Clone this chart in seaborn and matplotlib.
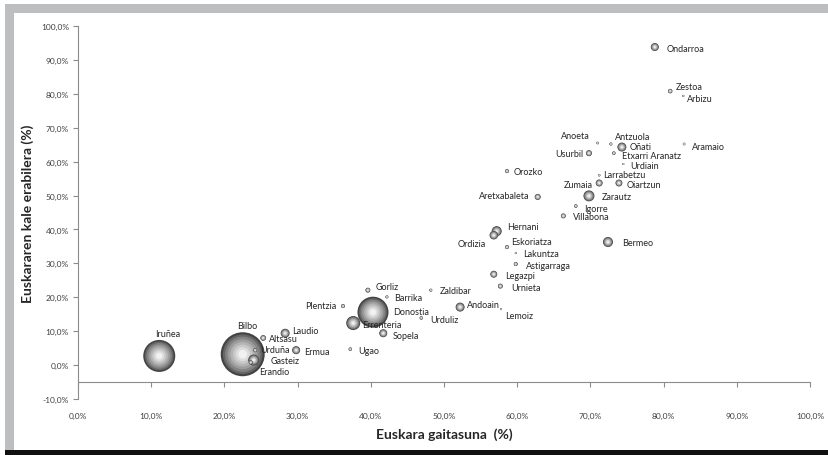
import matplotlib
matplotlib.use("Agg")
import numpy as np
import pandas as pd
import seaborn as sns
import matplotlib.pyplot as plt
from matplotlib.patches import Rectangle
from matplotlib.ticker import FuncFormatter

# --- Datuak: herri bakoitzeko euskara gaitasuna (%), kale erabilera (%) eta burbuilaren tamaina
herriak = [
    "Bilbo", "Iruñea", "Donostia", "Errenteria", "Gasteiz", "Zarautz", "Hernani", "Bermeo",
    "Ordizia", "Oñati", "Laudio", "Andoain", "Ondarroa", "Ermua", "Sopela", "Zumaia",
    "Oiartzun", "Legazpi", "Usurbil", "Aretxabaleta", "Altsasu", "Villabona", "Urnieta",
    "Gorliz", "Zestoa", "Orozko", "Eskoriatza", "Astigarraga", "Plentzia", "Urduña",
    "Erandio", "Igorre", "Etxarri Aranatz", "Urduliz", "Ugao", "Antzuola", "Zaldibar",
    "Barrika", "Anoeta", "Aramaio", "Larrabetzu", "Arbizu", "Urdiain", "Lakuntza", "Lemoiz",
]
gaitasuna = [
    22.5, 11.1, 40.3, 37.6, 24.0, 69.8, 57.2, 72.4,
    56.8, 74.3, 28.3, 52.2, 78.8, 29.8, 41.7, 71.2,
    73.9, 56.8, 69.8, 62.8, 25.3, 66.3, 57.7,
    39.6, 80.9, 58.6, 58.6, 59.8, 36.2, 24.2,
    23.6, 68.0, 73.2, 46.9, 37.2, 72.8, 48.2,
    42.2, 71.0, 82.8, 71.2, 82.7, 74.5, 59.8, 57.8,
]
erabilera = [
    3.2, 2.7, 15.6, 12.4, 1.5, 49.9, 39.5, 36.3,
    38.3, 64.3, 9.4, 17.1, 93.8, 4.4, 9.4, 53.7,
    53.7, 26.8, 62.5, 49.6, 8.0, 44.0, 23.3,
    22.1, 80.8, 57.2, 34.8, 29.8, 17.4, 4.4,
    0.8, 46.9, 62.5, 13.9, 4.7, 65.2, 22.1,
    20.1, 65.5, 65.2, 56.0, 79.4, 59.3, 33.0, 16.5,
]
tamaina = [
    484, 256, 240, 49, 30, 30, 25, 25,
    18, 20, 20, 20, 16, 16, 16, 12,
    12, 12, 9, 9, 8, 6, 6,
    6, 5, 4, 4, 4, 4, 4,
    4, 3, 3, 3, 3, 2.2, 2.2,
    2.2, 1.7, 1.7, 1.5, 1.0, 1.0, 1.0, 1.0,
]

x_tikak = [0, 10, 20, 30, 40, 50, 60, 70, 80, 90, 100]
y_tikak = [-10, 0, 10, 20, 30, 40, 50, 60, 70, 80, 90, 100]

# Etiketen kokapena puntuarekiko (pixeletan) eta lerrokadura
etiketak = {
    "Bilbo": (5, 29, "center"), "Iruñea": (8, 22, "center"), "Donostia": (20, 1, "left"),
    "Errenteria": (9, -1, "left"), "Gasteiz": (17, 0, "left"), "Zarautz": (13, -1, "left"),
    "Hernani": (10, 5, "left"), "Bermeo": (14, 0, "left"), "Ordizia": (-8, -8, "right"),
    "Oñati": (8, 1, "left"), "Laudio": (7, 3, "left"), "Andoain": (7, 3, "left"),
    "Ondarroa": (12, -1, "left"), "Ermua": (8, -1, "left"), "Sopela": (9, -2, "left"),
    "Zumaia": (-6, -2, "right"), "Oiartzun": (8, -2, "left"), "Legazpi": (11, -1, "left"),
    "Usurbil": (-6, 0, "right"), "Aretxabaleta": (-8, 1, "right"), "Altsasu": (6, -1, "left"),
    "Villabona": (10, -1, "left"), "Urnieta": (11, -1, "left"), "Gorliz": (8, 4, "left"),
    "Zestoa": (6, 5, "left"), "Orozko": (7, 0, "left"), "Eskoriatza": (4, 6, "left"),
    "Astigarraga": (10, -1, "left"), "Plentzia": (-7, 1, "right"), "Urduña": (5, 1, "left"),
    "Erandio": (8, -9, "left"), "Igorre": (8, -2, "left"), "Etxarri Aranatz": (8, -2, "left"),
    "Urduliz": (9, -2, "left"), "Ugao": (8, -1, "left"), "Antzuola": (4, 8, "left"),
    "Zaldibar": (9, 0, "left"), "Barrika": (7, -1, "left"), "Anoeta": (-8, 7, "right"),
    "Aramaio": (8, -2, "left"), "Larrabetzu": (4, 1, "left"), "Arbizu": (4, -3, "left"),
    "Urdiain": (7, -1, "left"), "Lakuntza": (7, 0, "left"), "Lemoiz": (4, -6, "left"),
}

df = pd.DataFrame({"herria": herriak, "gaitasuna": gaitasuna,
                   "erabilera": erabilera, "tamaina": tamaina})

# burbuila-tamaina -> markatzailearen azalera (pt^2), 100 dpi-tan
px2pt = 0.72
k = (2 * px2pt) ** 2

# Esfera itxura: geruza zentrokideak, ertz ilunetik erdiko argira
geruzak = [1.0, 0.9, 0.8, 0.68, 0.56, 0.44, 0.32, 0.2]
koloreak = ["#434343", "#666666", "#838383", "#9d9d9d", "#b4b4b4", "#c9c9c9", "#dddddd", "#f1f1f1"]
paleta = {str(i): c for i, c in enumerate(koloreak)}
smax = max(tamaina) * k * 1.01

sns.set_theme(style="white")
plt.rcParams["font.family"] = ["Lato", "DejaVu Sans"]

fig = plt.figure(figsize=(8.29, 4.56), dpi=100)
W, H = 829, 456
# marko grisa eta behealdeko marra beltza
fig.patches.append(Rectangle((5 / W, 5 / H), 1, (H - 10) / H, transform=fig.transFigure,
                             facecolor="#bdbec0", edgecolor="none", zorder=-3))
fig.patches.append(Rectangle((14 / W, 5 / H), 1, (H - 19) / H, transform=fig.transFigure,
                             facecolor="white", edgecolor="none", zorder=-2))
fig.patches.append(Rectangle((5 / W, 0), 1, 5 / H, transform=fig.transFigure,
                             facecolor="#111111", edgecolor="none", zorder=-2))

ax = fig.add_axes([78 / W, 1 - 400 / H, (810 - 78) / W, (400 - 27) / H])
ax.patch.set_alpha(0)

# handienetik txikienera, txikiak gainean gera daitezen
df_ord = df.sort_values("tamaina", ascending=False)
for _, r in df_ord.iterrows():
    lay = pd.DataFrame({
        "x": [r.gaitasuna] * len(geruzak),
        "y": [r.erabilera] * len(geruzak),
        "s": [r.tamaina * k * f ** 2 for f in geruzak],
        "g": [str(i) for i in range(len(geruzak))],
    })
    sns.scatterplot(data=lay, x="x", y="y", size="s", sizes=(0, smax), size_norm=(0, smax),
                    hue="g", palette=paleta, hue_order=list(paleta), linewidth=0,
                    legend=False, ax=ax, zorder=3)

for _, r in df.iterrows():
    dx, dy, ha = etiketak[r.herria]
    ax.annotate(r.herria, (r.gaitasuna, r.erabilera), xytext=(dx, dy),
                textcoords="offset pixels", ha=ha, va="center",
                fontsize=6.5, color="#262626", zorder=5)

ax.set_xlim(0, 100)
ax.set_ylim(-10, 100)
ax.set_xticks(x_tikak)
ax.set_yticks(y_tikak)
ax.set_xlabel("")

pct = FuncFormatter(lambda v, p: f"{v:.1f}%".replace(".", ","))
ax.yaxis.set_major_formatter(pct)

spine_c = "#8c8c8c"
for s in ["top", "right"]:
    ax.spines[s].set_visible(False)
ax.spines["left"].set_color(spine_c)
ax.spines["left"].set_linewidth(0.8)
ax.spines["bottom"].set_position(("data", -5))
ax.spines["bottom"].set_color(spine_c)
ax.spines["bottom"].set_linewidth(0.8)
ax.tick_params(axis="x", which="major", direction="out", length=3.5, width=0.8,
               color=spine_c, labelbottom=False, bottom=True)
ax.tick_params(axis="y", which="major", direction="out", length=3.5, width=0.8,
               color=spine_c, labelsize=6, labelcolor="#404040", left=True, pad=3)

# X ardatzaren etiketak grafikoaren behealdean
sec = ax.secondary_xaxis("bottom")
sec.set_xticks(x_tikak)
sec.xaxis.set_major_formatter(pct)
sec.spines["bottom"].set_visible(False)
sec.tick_params(axis="x", length=0, labelsize=6, labelcolor="#404040", pad=9)

sec.set_xlabel("Euskara gaitasuna  (%)", fontsize=10, fontweight="bold", color="#262626", labelpad=6)
ax.set_ylabel("Euskararen kale erabilera (%)", fontsize=10, fontweight="bold",
              color="#262626", labelpad=5)

fig.savefig("out.png", dpi=100)
